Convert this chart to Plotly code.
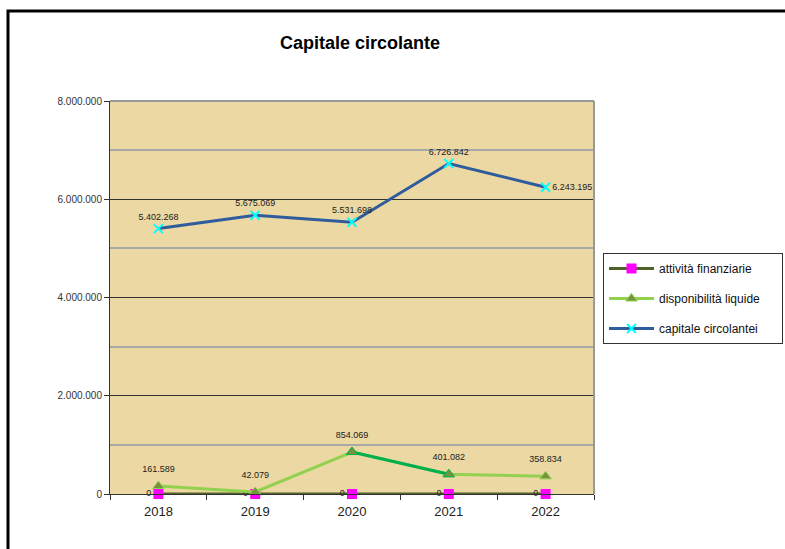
import plotly.graph_objects as go

years = ["2018", "2019", "2020", "2021", "2022"]
attivita = [0, 0, 0, 0, 0]
liquide = [161589, 42079, 854069, 401082, 358834]
capitale = [5402268, 5675069, 5531698, 6726842, 6243195]

W, H = 785, 549
L, R, T, B = 110, 594, 101, 494

def fmt(v):
    return f"{v:,}".replace(",", ".")

FONT = "Liberation Sans, Arial, sans-serif"
PAD = "\u00a0" * 5

fig = go.Figure()

fig.add_trace(go.Scatter(
    x=years, y=attivita, name="attività finanziarie" + PAD, mode="lines+markers+text",
    line=dict(color="#4F6228", width=3),
    marker=dict(symbol="square", size=10, color="#FF00FF"),
    text=[fmt(v) for v in attivita], textposition="middle left",
    textfont=dict(size=9, color="#222", family=FONT),
    legendgroup="a", cliponaxis=False))

fig.add_trace(go.Scatter(
    x=years, y=liquide, name="disponibilità liquide" + PAD, mode="lines+markers",
    line=dict(color="#92D050", width=3),
    marker=dict(symbol="triangle-up", size=10, color="#77933C",
                line=dict(color="#92D050", width=1)),
    legendgroup="b", cliponaxis=False))

fig.add_trace(go.Scatter(
    x=years[2:4], y=liquide[2:4], mode="lines+markers", showlegend=False,
    line=dict(color="#00B050", width=3),
    marker=dict(symbol="triangle-up", size=10, color="#77933C",
                line=dict(color="#00B050", width=1)),
    legendgroup="b", hoverinfo="skip", cliponaxis=False))

fig.add_trace(go.Scatter(
    x=years, y=liquide, mode="markers+text", showlegend=False,
    marker=dict(size=17, opacity=0),
    text=[fmt(v) for v in liquide], textposition="top center",
    textfont=dict(size=9, color="#222", family=FONT),
    legendgroup="b", hoverinfo="skip", cliponaxis=False))

fig.add_trace(go.Scatter(
    x=years, y=capitale, name="capitale circolantei" + PAD, mode="lines+markers+text",
    line=dict(color="#2E5C9C", width=3),
    marker=dict(symbol="x-thin", size=9, color="#00FFFF",
                line=dict(color="#00FFFF", width=2)),
    text=[fmt(v) for v in capitale],
    textposition=["top center", "top center", "top center", "top center", "middle right"],
    textfont=dict(size=9, color="#222", family=FONT),
    legendgroup="c", cliponaxis=False))

def px_x(p):
    return (p - L) / (R - L)

def px_y(p):
    return (B - p) / (B - T)

fig.update_layout(
    width=W, height=H,
    margin=dict(l=L, r=W - R, t=T, b=H - B, autoexpand=False),
    paper_bgcolor="white",
    plot_bgcolor="#ECD8A2",
    separators=",.",
    font=dict(family=FONT, color="#222"),
    showlegend=True,
    legend=dict(
        x=px_x(603), y=px_y(253), xanchor="left", yanchor="top",
        bgcolor="white", bordercolor="#333", borderwidth=1,
        font=dict(size=12, family=FONT, color="#111"),
        tracegroupgap=11, itemwidth=45,
    ),
    annotations=[dict(
        text="<b>Capitale circolante</b>", x=px_x(360), y=px_y(43),
        xref="paper", yref="paper", showarrow=False, yanchor="middle",
        xanchor="center",
        font=dict(size=18, family=FONT, color="#000"))],
    shapes=[
        dict(type="rect", xref="paper", yref="paper",
             x0=px_x(8), x1=px_x(800), y0=px_y(560), y1=px_y(11),
             line=dict(color="black", width=3), fillcolor="rgba(0,0,0,0)",
             layer="below"),
        dict(type="line", xref="paper", yref="paper", x0=0, x1=1, y0=1, y1=1,
             line=dict(color="#999", width=2)),
        dict(type="line", xref="paper", yref="paper", x0=1, x1=1, y0=0, y1=1,
             line=dict(color="#999", width=2)),
    ],
)

fig.update_xaxes(
    type="category", tickson="boundaries", ticks="outside", ticklen=5,
    tickcolor="#333", showline=True, linecolor="#333", linewidth=1,
    showgrid=False, tickfont=dict(size=13, color="#222", family=FONT),
    range=[-0.5, 4.5], ticklabelstandoff=5,
)

fig.update_yaxes(
    range=[0, 8000000], tickvals=[0, 2000000, 4000000, 6000000, 8000000],
    tickformat=",d", ticks="outside", ticklen=5, tickcolor="#333",
    showline=True, linecolor="#333", linewidth=1,
    showgrid=True, gridcolor="#333", gridwidth=1, zeroline=False,
    minor=dict(tickvals=[1000000, 3000000, 5000000, 7000000], showgrid=True,
               gridcolor="#A8A8A8", gridwidth=2),
    tickfont=dict(size=10, color="#333", family=FONT),
)

fig.write_html("out.html")
